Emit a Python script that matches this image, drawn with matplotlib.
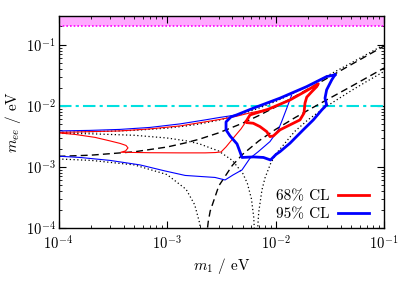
import matplotlib
matplotlib.use('Agg')
import matplotlib.pyplot as plt
from matplotlib.lines import Line2D

# black reference curves (NO, fixed Majorana phases)
m1_grid = [1e-4, 2e-4, 5e-4, 1e-3, 1.5e-3, 2e-3, 3e-3, 5e-3, 7e-3, 1e-2, 1.5e-2, 2e-2, 3e-2, 5e-2, 7e-2, 1e-1]
mee_pp = [3.69e-3, 3.76e-3, 3.97e-3, 4.32e-3, 4.69e-3, 5.06e-3, 5.83e-3, 7.45e-3, 9.16e-3, 1.18e-2, 1.65e-2, 2.13e-2, 3.10e-2, 5.07e-2, 7.05e-2, 1.00e-1]
mee_pm = [1.49e-3, 1.56e-3, 1.77e-3, 2.12e-3, 2.49e-3, 2.86e-3, 3.62e-3, 5.23e-3, 6.93e-3, 9.59e-3, 1.42e-2, 1.89e-2, 2.84e-2, 4.76e-2, 6.67e-2, 9.54e-2]

m1_mp_lo = [1e-4, 2e-4, 5e-4, 1e-3, 1.5e-3, 1.8e-3, 2.0e-3, 2.1e-3]
mee_mp_lo = [1.35e-3, 1.28e-3, 1.08e-3, 7.5e-4, 4.3e-4, 2.4e-4, 1.2e-4, 6e-5]
m1_mp_hi = [2.3e-3, 2.4e-3, 2.5e-3, 3e-3, 4e-3, 5e-3, 7e-3, 1e-2, 1.5e-2, 2e-2, 3e-2, 5e-2, 7e-2, 1e-1]
mee_mp_hi = [6.7e-5, 1.27e-4, 1.89e-4, 4.88e-4, 1.06e-3, 1.62e-3, 2.66e-3, 4.11e-3, 6.36e-3, 8.51e-3, 1.27e-2, 2.09e-2, 2.92e-2, 4.16e-2]

m1_mm_lo = [1e-4, 2e-4, 5e-4, 1e-3, 1.5e-3, 2e-3, 3e-3, 4e-3, 5e-3, 5.5e-3, 6e-3, 6.3e-3, 6.5e-3]
mee_mm_lo = [3.55e-3, 3.49e-3, 3.30e-3, 2.98e-3, 2.68e-3, 2.38e-3, 1.82e-3, 1.28e-3, 7.8e-4, 5.4e-4, 3.0e-4, 1.5e-4, 5e-5]
m1_mm_hi = [6.8e-3, 7.0e-3, 7.5e-3, 8e-3, 9e-3, 1e-2, 1.5e-2, 2e-2, 3e-2, 5e-2, 7e-2, 1e-1]
mee_mm_hi = [8e-5, 1.8e-4, 4.2e-4, 6.6e-4, 1.13e-3, 1.6e-3, 3.8e-3, 5.95e-3, 1.0e-2, 1.78e-2, 2.54e-2, 3.66e-2]

# 68% CL contour
m1_r68 = [5.35e-3, 5.82e-3, 8.59e-3, 1.36e-2, 1.94e-2, 2.48e-2, 2.40e-2, 2.16e-2, 1.94e-2, 1.87e-2, 1.83e-2,
          1.68e-2, 1.36e-2, 1.10e-2, 9.55e-3, 8.89e-3, 8.30e-3, 7.19e-3, 6.23e-3, 5.44e-3, 5.35e-3]
mee_r68 = [5.54e-3, 7.11e-3, 8.83e-3, 1.25e-2, 1.78e-2, 2.30e-2, 2.07e-2, 1.71e-2, 1.39e-2, 1.11e-2, 7.59e-3,
           5.89e-3, 4.89e-3, 4.05e-3, 3.22e-3, 3.14e-3, 3.79e-3, 4.58e-3, 5.20e-3, 5.32e-3, 5.54e-3]
m1_r68_up = [1e-4, 3.69e-4, 6.97e-4, 1.32e-3, 2.24e-3, 3.08e-3, 4.32e-3, 5.82e-3, 8.59e-3]
mee_r68_up = [3.68e-3, 3.89e-3, 4.20e-3, 4.70e-3, 5.47e-3, 6.01e-3, 6.73e-3, 7.68e-3, 8.83e-3]
m1_r68_lo = [1e-4, 1.42e-4, 2.17e-4, 2.98e-4, 3.69e-4, 4.19e-4, 4.37e-4, 4.15e-4, 3.75e-4,
             6.97e-4, 1.32e-3, 2.24e-3, 2.77e-3, 3.15e-3, 3.50e-3, 4.24e-3, 4.81e-3, 5.35e-3]
mee_r68_lo = [3.61e-3, 3.41e-3, 3.05e-3, 2.67e-3, 2.43e-3, 2.25e-3, 2.05e-3, 1.83e-3, 1.74e-3,
              1.71e-3, 1.70e-3, 1.70e-3, 1.72e-3, 1.76e-3, 2.13e-3, 3.22e-3, 4.20e-3, 5.54e-3]

# 95% CL contour
m1_b95 = [3.53e-2, 3.30e-2, 2.96e-2, 2.86e-2, 2.96e-2, 2.67e-2, 2.23e-2, 1.80e-2, 1.36e-2, 1.10e-2, 1.01e-2,
          9.00e-3, 7.74e-3, 6.26e-3, 4.91e-3, 4.71e-3, 4.42e-3, 3.81e-3, 3.50e-3, 3.50e-3, 3.89e-3, 4.38e-3,
          6.23e-3, 1.10e-2, 1.94e-2, 2.96e-2, 3.53e-2]
mee_b95 = [3.22e-2, 2.67e-2, 1.83e-2, 1.34e-2, 1.04e-2, 8.59e-3, 5.89e-3, 4.05e-3, 2.45e-3, 1.78e-3, 1.60e-3,
           1.30e-3, 1.43e-3, 1.46e-3, 1.43e-3, 1.76e-3, 2.38e-3, 3.22e-3, 4.05e-3, 5.47e-3, 6.61e-3, 7.11e-3,
           9.16e-3, 1.34e-2, 2.07e-2, 3.02e-2, 3.22e-2]
m1_b95_up = [1e-4, 1.95e-4, 3.69e-4, 6.97e-4, 1.32e-3, 2.24e-3, 3.08e-3, 4.38e-3]
mee_b95_up = [3.89e-3, 3.97e-3, 4.12e-3, 4.44e-3, 5.07e-3, 5.89e-3, 6.48e-3, 7.11e-3]
m1_b95_lo = [1e-4, 1.58e-4, 2.98e-4, 5.64e-4, 9.58e-4, 1.47e-3, 2.01e-3, 2.77e-3, 3.43e-3, 4.06e-3, 4.91e-3,
             5.82e-3, 6.94e-3, 8.89e-3, 1.06e-2, 1.14e-2, 1.27e-2, 1.41e-2]
mee_b95_lo = [1.50e-3, 1.43e-3, 1.28e-3, 1.08e-3, 8.60e-4, 7.26e-4, 6.99e-4, 6.73e-4, 6.12e-4, 7.39e-4, 8.93e-4,
              1.39e-3, 1.78e-3, 2.60e-3, 4.05e-3, 5.54e-3, 9.16e-3, 1.51e-2]

plt.rcParams['font.family'] = 'cmr10'
plt.rcParams['mathtext.fontset'] = 'cm'
plt.rcParams['axes.formatter.use_mathtext'] = True
plt.rcParams['axes.unicode_minus'] = False

fig = plt.figure(figsize=(4.09, 2.86), dpi=100)
ax = fig.add_axes([58.5/409, 1-228/286, (384-58.5)/409, (228-15.7)/286])
ax.set_xscale('log')
ax.set_yscale('log')
ax.set_xlim(1e-4, 1e-1)
ax.set_ylim(1e-4, 0.3)

# excluded band and reference line
ax.axhspan(0.2, 0.3, color='#ffaaff', lw=0, zorder=0)
ax.axhline(0.2, color='#ff00ff', ls=(0, (1, 1.2)), lw=1.2)
ax.axhline(0.01, color='#00e0e0', ls=(0, (6, 2, 1.5, 2)), lw=1.5)

dot = (0, (1, 2))
dash = (0, (5, 3))
ax.plot(m1_grid, mee_pp, color='k', ls=dot, lw=0.9)
ax.plot(m1_grid, mee_pm, color='k', ls=dash, lw=1.0)
ax.plot(m1_mp_lo, mee_mp_lo, color='k', ls=dot, lw=0.9)
ax.plot(m1_mp_hi, mee_mp_hi, color='k', ls=dash, lw=1.0)
ax.plot(m1_mm_lo, mee_mm_lo, color='k', ls=dot, lw=0.9)
ax.plot(m1_mm_hi, mee_mm_hi, color='k', ls=dot, lw=0.9)

red = '#ff0000'
blue = '#0000ff'
ax.plot(m1_r68_up, mee_r68_up, color=red, lw=0.8)
ax.plot(m1_r68_lo, mee_r68_lo, color=red, lw=0.8)
ax.plot(m1_b95_up, mee_b95_up, color=blue, lw=0.8)
ax.plot(m1_b95_lo, mee_b95_lo, color=blue, lw=0.8)
ax.plot(m1_r68, mee_r68, color=red, lw=2.0)
ax.plot(m1_b95, mee_b95, color=blue, lw=2.0)

ax.tick_params(which='both', direction='in', top=True, right=True)
ax.tick_params(which='major', length=5, width=0.8, labelsize=10.5)
ax.tick_params(which='minor', length=2.5, width=0.6)
ax.tick_params(axis='x', which='major', pad=5)
ax.tick_params(axis='y', which='major', pad=2)
for s in ax.spines.values():
    s.set_linewidth(1.0)

ax.set_xlabel(r'$m_1$ / eV', fontsize=11, labelpad=2)
ax.set_ylabel(r'$m_{ee}$ / eV', fontsize=11)
ax.yaxis.set_label_coords(-0.11, 0.5)

handles = [Line2D([], [], color=red, lw=2.0), Line2D([], [], color=blue, lw=2.0)]
ax.legend(handles, ['68% CL', '95% CL'], loc='lower right', frameon=False, markerfirst=False,
          fontsize=11, handlelength=2.0, handletextpad=0.6, labelspacing=0.3, borderpad=0,
          borderaxespad=0, bbox_to_anchor=(0.954, 0.03))

fig.savefig('out.png', dpi=100)
